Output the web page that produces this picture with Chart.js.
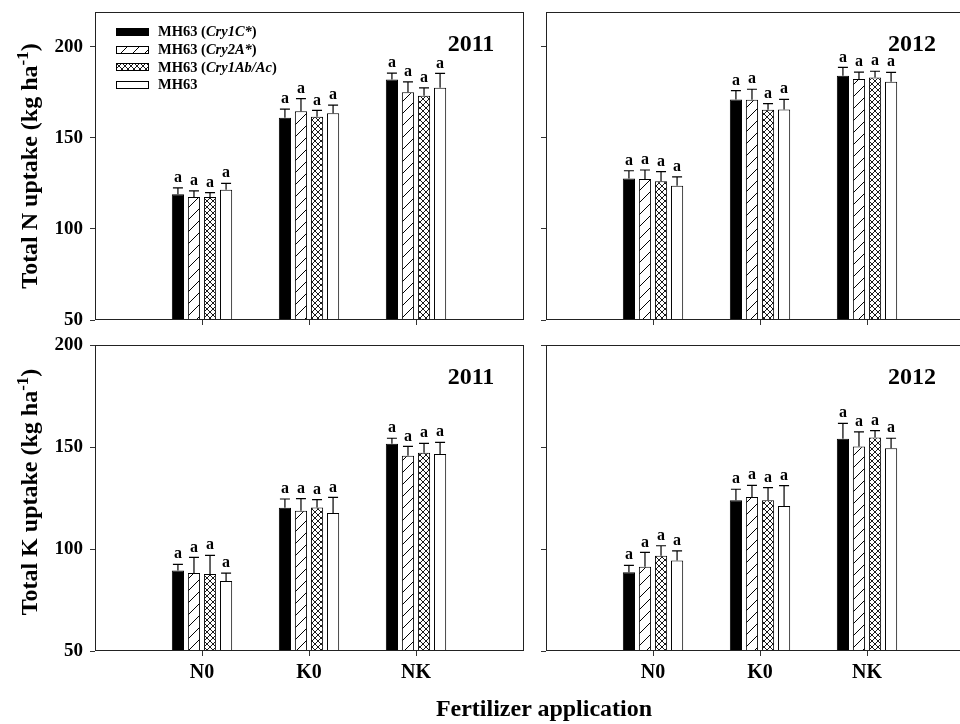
<!DOCTYPE html>
<html>
<head>
<meta charset="utf-8">
<script src="https://cdn.jsdelivr.net/npm/chart.js@4.4.0/dist/chart.umd.min.js"></script>
<style>
  html, body { margin: 0; padding: 0; background: #fff; overflow: hidden; width: 960px; height: 724px; }
  body { position: relative; font-family: 'Liberation Serif', 'Times New Roman', serif; font-weight: bold; color: #000; }
  .panel { position: absolute; }
  .ytitle { position: absolute; transform: translate(-50%, -50%) rotate(-90deg); white-space: nowrap; font-size: 24px; }
  .ytitle sup { font-size: 17px; }
  .year { position: absolute; transform: translate(-50%, -50%); font-size: 24px; }
  .xtitle { position: absolute; transform: translate(-50%, -50%); font-size: 24px; white-space: nowrap; }
  #legend { position: absolute; left: 116px; top: 23px; font-size: 14.5px; }
  #legend .row { height: 17.7px; display: flex; align-items: center; }
  #legend canvas { margin-right: 9px; }
</style>
</head>
<body>

<div class="panel" id="p1" style="left:0;top:0;width:530px;height:335px"><canvas id="c1"></canvas></div>
<div class="panel" id="p2" style="left:530px;top:0;width:460px;height:335px"><canvas id="c2"></canvas></div>
<div class="panel" id="p3" style="left:0;top:335px;width:530px;height:389px"><canvas id="c3"></canvas></div>
<div class="panel" id="p4" style="left:530px;top:335px;width:460px;height:389px"><canvas id="c4"></canvas></div>

<div class="ytitle" style="left:28px;top:166px">Total N uptake (kg ha<sup>-1</sup>)</div>
<div class="ytitle" style="left:28px;top:492px">Total K uptake (kg ha<sup>-1</sup>)</div>

<div class="year" style="left:471px;top:43px">2011</div>
<div class="year" style="left:912px;top:43px">2012</div>
<div class="year" style="left:471px;top:376px">2011</div>
<div class="year" style="left:912px;top:376px">2012</div>

<div class="xtitle" style="left:544px;top:708px">Fertilizer application</div>

<div id="legend">
  <div class="row"><canvas width="33" height="8" data-s="0"></canvas><span>MH63 (<i>Cry1C*</i>)</span></div>
  <div class="row"><canvas width="33" height="8" data-s="1"></canvas><span>MH63 (<i>Cry2A*</i>)</span></div>
  <div class="row"><canvas width="33" height="8" data-s="2"></canvas><span>MH63 (<i>Cry1Ab/Ac</i>)</span></div>
  <div class="row"><canvas width="33" height="8" data-s="3"></canvas><span>MH63</span></div>
</div>

<script>
// Categories and series
const categories = ['N0', 'K0', 'NK'];
const seriesNames = ['MH63 (Cry1C*)', 'MH63 (Cry2A*)', 'MH63 (Cry1Ab/Ac)', 'MH63'];
const yTicks = [50, 100, 150, 200];
const letters = 'a';

// Total N uptake, 2011 (rows = series, cols = N0, K0, NK)
const n2011 = [
  [119.0, 161.0, 182.0],
  [117.5, 164.5, 175.0],
  [117.5, 161.5, 173.0],
  [121.5, 163.5, 177.5]
];
const n2011Err = [
  [3.5, 4.7, 3.5],
  [3.3, 7.0, 5.7],
  [2.4, 3.5, 4.4],
  [3.5, 4.4, 7.8]
];

// Total N uptake, 2012
const n2012 = [
  [127.7, 171.0, 184.0],
  [127.4, 170.8, 182.2],
  [126.1, 165.4, 183.0],
  [123.7, 165.5, 180.7]
];
const n2012Err = [
  [4.2, 4.9, 4.6],
  [4.9, 5.8, 3.8],
  [5.3, 3.3, 3.5],
  [4.8, 5.6, 5.2]
];

// Total K uptake, 2011
const k2011 = [
  [89.5, 120.2, 151.6],
  [88.2, 118.8, 145.7],
  [87.7, 120.4, 147.2],
  [84.3, 117.6, 146.6]
];
const k2011Err = [
  [3.0, 4.3, 2.7],
  [7.7, 5.9, 4.6],
  [9.2, 3.8, 4.6],
  [3.9, 7.7, 5.7]
];

// Total K uptake, 2012
const k2012 = [
  [88.6, 123.9, 154.1],
  [91.3, 125.5, 150.3],
  [96.7, 123.9, 154.6],
  [94.4, 121.1, 149.4]
];
const k2012Err = [
  [3.4, 5.4, 7.5],
  [7.0, 5.7, 7.1],
  [4.9, 6.2, 3.4],
  [4.7, 10.0, 4.9]
];

Chart.defaults.font.family = "'Liberation Serif', 'Times New Roman', serif";
Chart.defaults.font.weight = 'bold';
Chart.defaults.color = '#000';

// fill patterns: solid black, "/" hatch, cross hatch, white
function makeHatch() {
  const c = document.createElement('canvas');
  c.width = c.height = 12;
  const g = c.getContext('2d');
  g.fillStyle = '#fff';
  g.fillRect(0, 0, 12, 12);
  g.strokeStyle = '#000';
  g.lineWidth = 1;
  g.beginPath();
  g.moveTo(0, 12); g.lineTo(12, 0);
  g.moveTo(-1, 1); g.lineTo(1, -1);
  g.moveTo(11, 13); g.lineTo(13, 11);
  g.stroke();
  return g.createPattern(c, 'repeat');
}

function makeCross() {
  const c = document.createElement('canvas');
  c.width = c.height = 6;
  const g = c.getContext('2d');
  g.fillStyle = '#fff';
  g.fillRect(0, 0, 6, 6);
  g.strokeStyle = '#000';
  g.lineWidth = 0.9;
  g.beginPath();
  g.moveTo(0, 6); g.lineTo(6, 0);
  g.moveTo(0, 0); g.lineTo(6, 6);
  g.stroke();
  return g.createPattern(c, 'repeat');
}

const fills = ['#000', makeHatch(), makeCross(), '#fff'];

// legend swatches
document.querySelectorAll('#legend canvas').forEach(cv => {
  const g = cv.getContext('2d');
  g.fillStyle = fills[+cv.dataset.s];
  g.fillRect(0, 0, 33, 8);
  g.strokeStyle = '#000';
  g.lineWidth = 1;
  g.strokeRect(0.5, 0.5, 32, 7);
});

// error bars + letters above each bar
const errorBars = {
  id: 'errorBars',
  afterDatasetsDraw(chart) {
    const ctx = chart.ctx;
    const y = chart.scales.y;
    ctx.save();
    ctx.strokeStyle = '#000';
    ctx.lineWidth = 1.2;
    ctx.fillStyle = '#000';
    ctx.font = "bold 16px 'Liberation Serif', serif";
    ctx.textAlign = 'center';
    ctx.textBaseline = 'bottom';
    chart.data.datasets.forEach((ds, i) => {
      const meta = chart.getDatasetMeta(i);
      meta.data.forEach((bar, j) => {
        const v = ds.data[j];
        if (v == null) return;
        const top = y.getPixelForValue(v + ds.errors[j - 1]);
        ctx.beginPath();
        ctx.moveTo(bar.x, bar.y);
        ctx.lineTo(bar.x, top);
        ctx.moveTo(bar.x - 5, top);
        ctx.lineTo(bar.x + 5, top);
        ctx.stroke();
        ctx.fillText(letters, bar.x, top - 2);
      });
    });
    ctx.restore();
  }
};

// frame around the plot area
const frame = {
  id: 'frame',
  afterDraw(chart) {
    const a = chart.chartArea;
    const ctx = chart.ctx;
    ctx.save();
    ctx.strokeStyle = '#222';
    ctx.lineWidth = 1;
    ctx.strokeRect(Math.round(a.left) + 0.5, Math.round(a.top) + 0.5,
      Math.round(a.right - a.left), Math.round(a.bottom - a.top) - 1);
    ctx.restore();
  }
};

function makePanel(id, means, errs, p) {
  const datasets = means.map((row, s) => ({
    label: seriesNames[s],
    data: [null, ...row, null],
    errors: errs[s],
    backgroundColor: fills[s],
    borderColor: '#000',
    borderWidth: 1,
    categoryPercentage: 0.6,
    barPercentage: 0.76
  }));

  return new Chart(document.getElementById(id), {
    type: 'bar',
    data: { labels: ['', ...categories, ''], datasets: datasets },
    options: {
      responsive: true,
      maintainAspectRatio: false,
      animation: false,
      layout: { padding: { top: p.padTop, right: p.padRight, left: 0, bottom: 0 } },
      plugins: { legend: { display: false }, tooltip: { enabled: false } },
      scales: {
        x: {
          offset: false,
          border: { display: false },
          grid: {
            offset: false,
            drawOnChartArea: false,
            tickLength: 5,
            color: ctx => (ctx.index === 0 || ctx.index === 4) ? 'rgba(0,0,0,0)' : '#333'
          },
          ticks: {
            display: p.xLabels,
            autoSkip: false,
            maxRotation: 0,
            padding: 7,
            font: { size: 20, weight: 'bold', lineHeight: 1 }
          },
          afterFit: s => {
            s.height = p.xHeight;
            s.paddingLeft = 0; s.paddingRight = 0;
          }
        },
        y: {
          min: 50,
          max: p.yMax,
          border: { display: false },
          grid: { drawOnChartArea: false, tickLength: 5, color: '#333' },
          ticks: {
            display: p.yLabels,
            stepSize: 50,
            padding: 7,
            font: { size: 19, weight: 'bold', lineHeight: 1 }
          },
          afterBuildTicks: s => {
            s.ticks = yTicks.filter(v => v <= p.yMax).map(v => ({ value: v }));
          },
          afterFit: s => {
            s.width = p.yWidth;
            s.paddingTop = 0; s.paddingBottom = 0;
          }
        }
      }
    },
    plugins: [errorBars, frame]
  });
}

makePanel('c1', n2011, n2011Err, { yMax: 219, yLabels: true, xLabels: false, yWidth: 95, padTop: 12, padRight: 7, xHeight: 15 });
makePanel('c2', n2012, n2012Err, { yMax: 219, yLabels: false, xLabels: false, yWidth: 16, padTop: 12, padRight: 16, xHeight: 15 });
makePanel('c3', k2011, k2011Err, { yMax: 200, yLabels: true, xLabels: true, yWidth: 95, padTop: 10, padRight: 7, xHeight: 73 });
makePanel('c4', k2012, k2012Err, { yMax: 200, yLabels: false, xLabels: true, yWidth: 16, padTop: 10, padRight: 16, xHeight: 73 });
</script>
</body>
</html>
